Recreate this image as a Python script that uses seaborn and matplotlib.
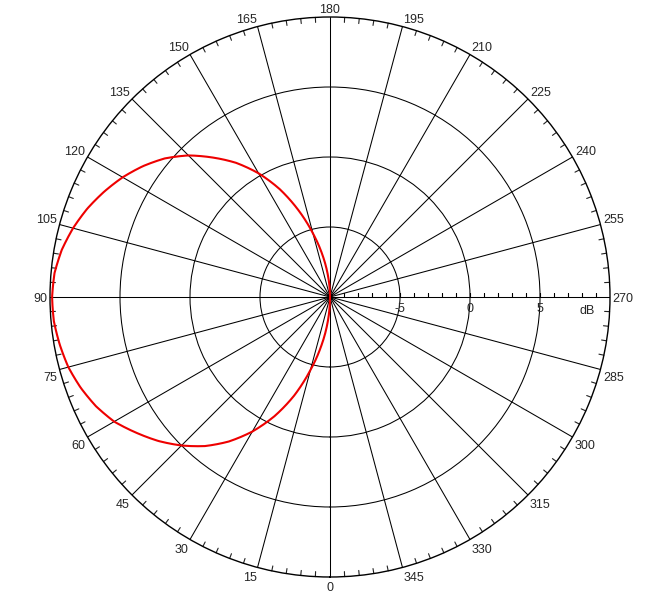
import numpy as np
import matplotlib
matplotlib.use("Agg")
import matplotlib.pyplot as plt
import seaborn as sns

# pattern (degrees, dB)
angle_deg = [0, 5, 10, 15, 20, 25, 30, 35, 40, 45, 50, 55, 60, 65, 70, 75, 80, 85, 90,
             95, 100, 105, 110, 115, 120, 125, 130, 135, 140, 145, 150, 155, 160, 165,
             170, 175, 180]
level_db = [-10.0, -8.3, -6.5, -4.6, -2.5, -0.6, 1.1, 2.6, 3.9, 5.0, 6.0, 6.9, 7.8, 8.45,
            8.95, 9.35, 9.6, 9.8, 9.85,
            9.75, 9.45, 9.0, 8.45, 7.8, 7.1, 6.3, 5.4, 4.3, 3.0, 1.7, 0.2, -1.5, -3.4, -5.3,
            -7.0, -8.6, -10.0]

theta_ticks = list(range(0, 360, 15))
r_ticks = [-5, 0, 5]
r_min, r_max = -10, 10

sns.set_style("white")
plt.rcParams['font.family'] = ['Liberation Sans', 'DejaVu Sans']

fig = plt.figure(figsize=(6.59, 5.93), dpi=100)
ax = fig.add_axes([50 / 659, 16 / 593, 560 / 659, 560 / 593], projection='polar')
ax.set_theta_zero_location('S')
ax.set_theta_direction(-1)
ax.set_ylim(r_min, r_max)

ax.set_thetagrids(theta_ticks, labels=[''] * len(theta_ticks))
ax.set_rgrids(r_ticks, labels=[''] * len(r_ticks))
ax.grid(True, color='black', lw=0.75)
ax.tick_params(length=0)
ax.spines['polar'].set_color('black')
ax.spines['polar'].set_linewidth(1.0)

# small ticks on the outer circle every 3 degrees
for a in range(0, 360, 3):
    if a % 15:
        t = np.deg2rad(a)
        ax.plot([t, t], [r_max, r_max - 0.36], color='#222222', lw=0.8, clip_on=False)

# minor dB ticks along the 270 spoke
ax.plot([np.deg2rad(270)] * 19, list(range(-9, 10)), ls='none', marker=2,
        ms=3, mew=0.8, color='black')

# angle labels
for a in theta_ticks:
    t = np.deg2rad(a)
    ux, uy = -np.sin(t), -np.cos(t)
    ha = 'right' if ux < -0.1 else ('left' if ux > 0.1 else 'center')
    va = 'bottom' if uy > 0.1 else ('top' if uy < -0.1 else 'center')
    ax.annotate(str(a), xy=(t, r_max), xytext=(ux * 2, uy * 2 - 1.5),
                textcoords='offset points', ha=ha, va=va, fontsize=9,
                annotation_clip=False)

# dB labels on the 270 spoke
for r in r_ticks:
    ax.annotate(str(r), xy=(np.deg2rad(270), r), xytext=(0, -4.5),
                textcoords='offset points', ha='center', va='top', fontsize=9)
ax.annotate('dB', xy=(np.deg2rad(270), 8.4), xytext=(0, -6),
            textcoords='offset points', ha='center', va='top', fontsize=9)

sns.lineplot(x=np.deg2rad(angle_deg), y=level_db, ax=ax, color='#ee0000', lw=1.5,
             sort=False, estimator=None)
curve = ax.lines[-1]
curve.set_clip_on(False)
# draw the curve smoothly in polar space instead of straight chords
curve.get_path()._interpolation_steps = 20

ax.set_xlabel('')
ax.set_ylabel('')
fig.savefig('out.png', dpi=100)
